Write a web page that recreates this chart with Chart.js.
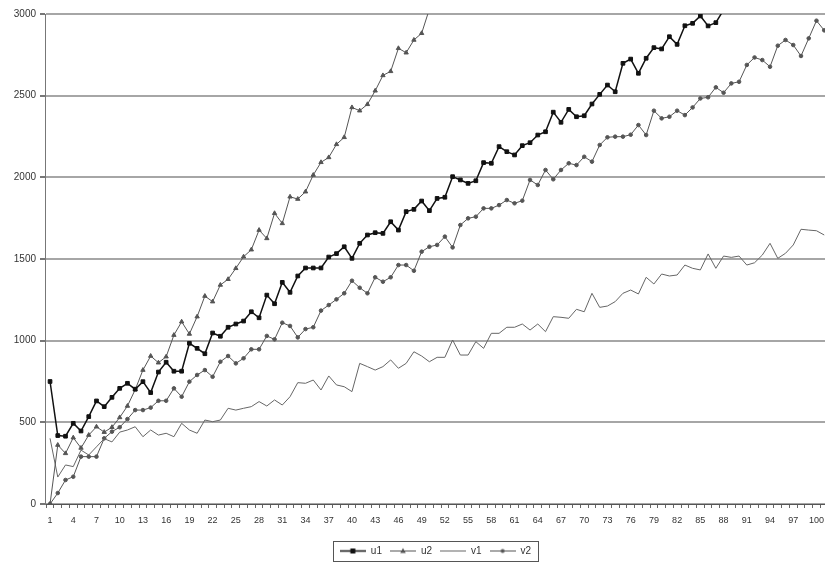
<!DOCTYPE html>
<html>
<head>
<meta charset="utf-8">
<script src="https://cdn.jsdelivr.net/npm/chart.js@4.4.1/dist/chart.umd.min.js"></script>
<style>
  html, body { margin: 0; padding: 0; background: #fff; overflow: hidden; }
  canvas { display: block; }
</style>
</head>
<body>
<canvas id="chart" width="825" height="562"></canvas>
<script>
// categories 1..101 (the right edge of the plot is cut just after 101)
const categories = Array.from({ length: 101 }, (_, i) => i + 1);
const xTickLabels = [1, 4, 7, 10, 13, 16, 19, 22, 25, 28, 31, 34, 37, 40, 43, 46, 49, 52, 55, 58,
  61, 64, 67, 70, 73, 76, 79, 82, 85, 88, 91, 94, 97, 100];
const yTicks = [0, 500, 1000, 1500, 2000, 2500, 3000];

// u1 and u2 leave the top of the plot, so they stop there
const u1 = [750, 419, 415, 494, 447, 535, 631, 596, 653, 708,
  739, 703, 749, 682, 808, 868, 813, 813, 984, 953,
  920, 1047, 1027, 1082, 1102, 1120, 1177, 1140, 1279, 1226,
  1357, 1296, 1396, 1445, 1445, 1445, 1512, 1533, 1575, 1504,
  1596, 1647, 1661, 1657, 1728, 1677, 1790, 1804, 1855, 1796,
  1871, 1878, 2004, 1984, 1963, 1979, 2090, 2086, 2188, 2157,
  2137, 2194, 2212, 2259, 2279, 2399, 2337, 2416, 2371, 2377,
  2449, 2508, 2565, 2524, 2698, 2724, 2637, 2729, 2794, 2786,
  2861, 2814, 2928, 2943, 2988, 2927, 2947, 3025];
const u2 = [0, 361, 310, 406, 343, 422, 473, 440, 470, 530,
  600, 700, 820, 906, 865, 902, 1034, 1116, 1041, 1147,
  1273, 1239, 1341, 1376, 1443, 1514, 1557, 1677, 1626, 1780,
  1718, 1881, 1867, 1912, 2014, 2092, 2122, 2202, 2245, 2428,
  2408, 2447, 2530, 2624, 2649, 2790, 2763, 2841, 2882, 3030];
const v1 = [402, 165, 239, 229, 330, 300, 350, 400, 380, 440,
  453, 473, 412, 453, 422, 433, 412, 494, 453, 433,
  514, 504, 514, 586, 575, 586, 596, 627, 600, 637,
  606, 657, 743, 739, 759, 698, 784, 729, 718, 688,
  861, 841, 820, 841, 882, 831, 861, 932, 906, 871,
  898, 898, 1004, 912, 912, 994, 953, 1045, 1045, 1082,
  1082, 1102, 1065, 1102, 1055, 1147, 1143, 1137, 1192, 1177,
  1290, 1204, 1212, 1239, 1290, 1310, 1286, 1388, 1347, 1408,
  1396, 1402, 1463, 1443, 1433, 1531, 1443, 1518, 1510, 1518,
  1463, 1477, 1524, 1596, 1504, 1535, 1586, 1682, 1677, 1673, 1647];
const v2 = [0, 67, 147, 167, 290, 290, 290, 402, 443, 470,
  520, 575, 575, 590, 632, 632, 708, 657, 749, 790,
  820, 779, 871, 906, 861, 892, 947, 947, 1029, 1008,
  1110, 1090, 1020, 1071, 1082, 1184, 1218, 1253, 1290, 1367,
  1324, 1290, 1388, 1361, 1388, 1463, 1463, 1428, 1545, 1575,
  1586, 1637, 1571, 1708, 1749, 1759, 1810, 1810, 1830, 1861,
  1841, 1857, 1984, 1953, 2045, 1988, 2045, 2086, 2075, 2126,
  2096, 2198, 2245, 2249, 2249, 2261, 2320, 2259, 2408, 2361,
  2371, 2408, 2381, 2428, 2483, 2490, 2551, 2518, 2575, 2585,
  2688, 2734, 2718, 2677, 2806, 2841, 2810, 2743, 2851, 2959, 2900];

const points = arr => arr.map((v, i) => ({ x: categories[i], y: v }));

// tick marks sit between categories, labels on them
const xTickValues = categories.flatMap(c => [c - 0.5, c]);

const family = "'Liberation Sans', Arial, sans-serif";

// little line + marker pictures for the legend
function legendIcon(color, width, marker) {
  const c = document.createElement('canvas');
  c.width = 26;
  c.height = 9;
  const g = c.getContext('2d');
  g.strokeStyle = color;
  g.fillStyle = color;
  g.lineWidth = width;
  g.beginPath();
  g.moveTo(0, 4.5);
  g.lineTo(26, 4.5);
  g.stroke();
  if (marker === 'rect') {
    g.fillRect(10.5, 2, 5, 5);
  } else if (marker === 'triangle') {
    g.beginPath();
    g.moveTo(13, 1.5);
    g.lineTo(15.8, 6.5);
    g.lineTo(10.2, 6.5);
    g.closePath();
    g.fill();
  } else if (marker === 'circle') {
    g.beginPath();
    g.arc(13, 4.5, 2, 0, Math.PI * 2);
    g.fill();
  }
  return c;
}

const legendIcons = [
  legendIcon('#111', 1.5, 'rect'),
  legendIcon('#555', 1, 'triangle'),
  legendIcon('#666', 1, null),
  legendIcon('#555', 1, 'circle')
];

// the legend sits a bit right of the canvas centre, with a frame round it
const legendFrame = {
  id: 'legendFrame',
  afterLayout(chart) {
    const legend = chart.legend;
    if (!legend) return;
    legend.left += 23;
    legend.right += 23;
    legend.top += 4;
    legend.bottom += 4;
  },
  afterDraw(chart) {
    const boxes = chart.legend && chart.legend.legendHitBoxes;
    if (!boxes || !boxes.length) return;
    const left = Math.min(...boxes.map(b => b.left)) - 7;
    const right = Math.max(...boxes.map(b => b.left + b.width)) + 7;
    const top = Math.min(...boxes.map(b => b.top)) - 5;
    const bottom = Math.max(...boxes.map(b => b.top + b.height)) + 5;
    const ctx = chart.ctx;
    ctx.save();
    ctx.strokeStyle = '#555';
    ctx.lineWidth = 1;
    ctx.strokeRect(Math.round(left) + 0.5, Math.round(top) + 0.5, Math.round(right - left), Math.round(bottom - top));
    ctx.restore();
  }
};

new Chart(document.getElementById('chart'), {
  type: 'line',
  data: {
    datasets: [
      {
        label: 'u1',
        data: points(u1),
        borderColor: '#111',
        borderWidth: 1.5,
        pointStyle: 'rect',
        pointRadius: 2.6,
        pointHoverRadius: 2.6,
        pointBackgroundColor: '#111',
        pointBorderColor: '#111',
        pointBorderWidth: 1
      },
      {
        label: 'u2',
        data: points(u2),
        borderColor: '#555',
        borderWidth: 1,
        pointStyle: 'triangle',
        pointRadius: 2.5,
        pointHoverRadius: 2.5,
        pointBackgroundColor: '#555',
        pointBorderColor: '#555',
        pointBorderWidth: 1
      },
      {
        label: 'v1',
        data: points(v1),
        borderColor: '#666',
        borderWidth: 1,
        pointRadius: 0,
        pointHoverRadius: 0
      },
      {
        label: 'v2',
        data: points(v2),
        borderColor: '#555',
        borderWidth: 1,
        pointStyle: 'circle',
        pointRadius: 1.8,
        pointHoverRadius: 1.8,
        pointBackgroundColor: '#555',
        pointBorderColor: '#555',
        pointBorderWidth: 1
      }
    ]
  },
  options: {
    responsive: false,
    animation: false,
    devicePixelRatio: 1,
    layout: { autoPadding: false, padding: { top: 14, right: 0, left: 0, bottom: 0 } },
    elements: { line: { tension: 0 } },
    scales: {
      x: {
        type: 'linear',
        min: 0.35,
        max: 101.1,
        afterBuildTicks: scale => {
          scale.ticks = xTickValues.map(v => ({ value: v }));
        },
        afterFit: scale => {
          scale.height = 30;
          scale.paddingLeft = 0;
          scale.paddingRight = 0;
        },
        ticks: {
          autoSkip: false,
          maxRotation: 0,
          minRotation: 0,
          padding: 7,
          font: { family: family, size: 9 },
          color: '#333',
          callback: value => xTickLabels.includes(value) ? String(value) : ''
        },
        grid: {
          drawOnChartArea: false,
          tickLength: 4,
          color: ctx => (ctx.tick && Number.isInteger(ctx.tick.value)) ? 'rgba(0,0,0,0)' : '#666'
        },
        border: { color: '#555', width: 1 }
      },
      y: {
        min: 0,
        max: 3000,
        afterBuildTicks: scale => {
          scale.ticks = yTicks.map(v => ({ value: v }));
        },
        afterFit: scale => {
          scale.width = 45;
        },
        ticks: {
          font: { family: family, size: 10 },
          color: '#333',
          padding: 4,
          callback: value => String(value)
        },
        grid: { color: '#a6a6a6', lineWidth: 2, tickLength: 5, tickColor: '#777' },
        border: { color: '#777', width: 1 }
      }
    },
    plugins: {
      legend: {
        position: 'bottom',
        labels: {
          usePointStyle: true,
          pointStyleWidth: 26,
          padding: 8,
          font: { family: family, size: 10 },
          color: '#333',
          generateLabels: chart => {
            const items = Chart.defaults.plugins.legend.labels.generateLabels(chart);
            items.forEach((item, i) => { item.pointStyle = legendIcons[i]; });
            return items;
          }
        }
      },
      tooltip: { enabled: false }
    }
  },
  plugins: [legendFrame]
});
</script>
</body>
</html>
